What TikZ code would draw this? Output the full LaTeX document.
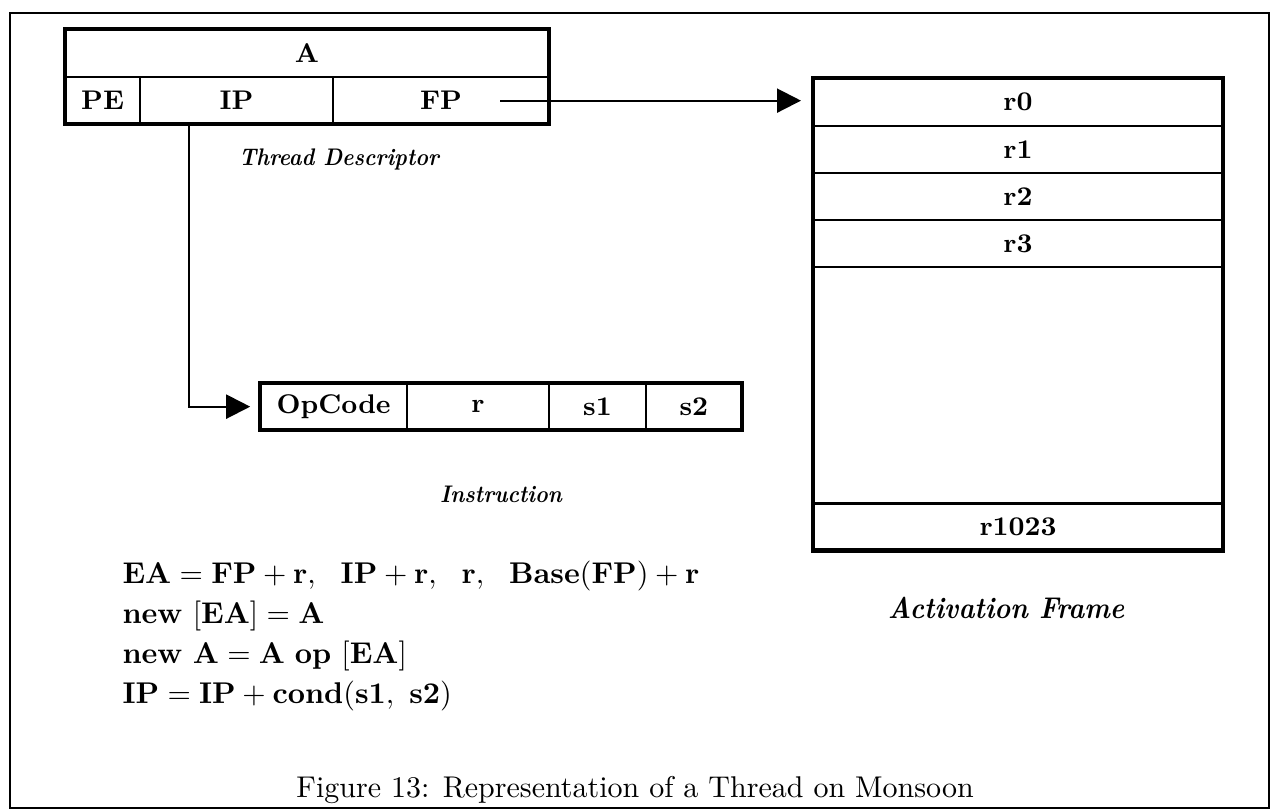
\documentclass[tikz,border=0pt]{standalone}
\usepackage{graphicx}
\usepackage{tikz}
\usetikzlibrary{arrows.meta, positioning, fit}

\newcommand{\slimtext}[1]{\scalebox{0.9}[1]{#1}}

\begin{document}
\begin{tikzpicture}[
    x=1pt, y=-1pt,
    cell/.style={
      rectangle, draw, line width=0.8pt, outer sep=0pt, inner sep=0pt,
      minimum height=15.7pt, font=\small\bfseries
    },
    slot/.style={cell, minimum width=136.7pt},
    outline/.style={draw, line width=1.4pt, inner sep=0pt, outer sep=0pt},
    note/.style={font=\footnotesize\bfseries\itshape},
    arr/.style={-{Triangle[length=8pt, width=8pt]}, line width=0.7pt}
]
  \useasboundingbox (0,0) rectangle (424.67,269.67);
  \draw[line width=0.6pt] (3.3,4.4) rectangle (423,269.2);

  % thread descriptor
  \node[cell, minimum width=161.3pt, minimum height=16pt, anchor=north west] (a) at (21.7,9.7) {A};
  \node[cell, minimum width=25pt, anchor=north west] (pe) at (a.south west) {PE};
  \node[cell, minimum width=64.3pt, right=0pt of pe] (ip) {IP};
  \node[cell, minimum width=72pt, right=0pt of ip] (fp) {FP};
  \node[outline, fit=(a)(pe)(fp)] (td) {};
  \node[note] (tdlabel) at (113,53) {\slimtext{Thread Descriptor}};

  % activation frame
  \node[slot, minimum height=16pt, anchor=north west] (r0) at (271,26) {r0};
  \node[slot, below=0pt of r0] (r1) {r1};
  \node[slot, below=0pt of r1] (r2) {r2};
  \node[slot, below=0pt of r2] (r3) {r3};
  \node[slot, minimum height=78.7pt, below=0pt of r3] (gap) {};
  \node[slot, below=0pt of gap] (rlast) {r1023};
  \node[outline, fit=(r0)(rlast)] (af) {};
  \node[note, font=\normalsize\bfseries\itshape, below=12pt of af, xshift=-4pt] (aflabel) {\slimtext{Activation Frame}};

  % instruction
  \node[cell, minimum width=49pt, anchor=north west] (opcode) at (86.7,127.7) {OpCode};
  \node[cell, minimum width=47.3pt, right=0pt of opcode] (reg) {r};
  \node[cell, minimum width=32.3pt, right=0pt of reg] (sa) {s1};
  \node[cell, minimum width=32pt, right=0pt of sa] (sb) {s2};
  \node[outline, fit=(opcode)(sb)] (instr) {};
  \node[note, below=15pt of instr] (instrlabel) {\slimtext{Instruction}};

  % pointers
  \coordinate (fpout) at ([xshift=19.7pt]fp.center);
  \coordinate (ipout) at ([xshift=-16pt]ip.south);
  \draw[arr, shorten >=4pt] (fpout) -- (fpout -| r0.west);
  \draw[arr, shorten >=3.3pt] (ipout) |- (opcode);

  % semantics
  \node[align=left, anchor=west] (eqs) at (37.3,212) {%
    $\mathbf{EA} = \mathbf{FP} + \mathbf{r},\ \ \mathbf{IP} + \mathbf{r},\ \ \mathbf{r},\ \ \mathbf{Base(FP)} + \mathbf{r}$\\[1.3pt]
    $\mathbf{new}\ [\mathbf{EA}] = \mathbf{A}$\\[1.3pt]
    $\mathbf{new\ A} = \mathbf{A\ op}\ [\mathbf{EA}]$\\[1.3pt]
    $\mathbf{IP} = \mathbf{IP} + \mathbf{cond}(\mathbf{s1},\ \mathbf{s2})$};

  \node (fig) at (211.7,263.3) {Figure 13: Representation of a Thread on Monsoon};
\end{tikzpicture}
\end{document}
